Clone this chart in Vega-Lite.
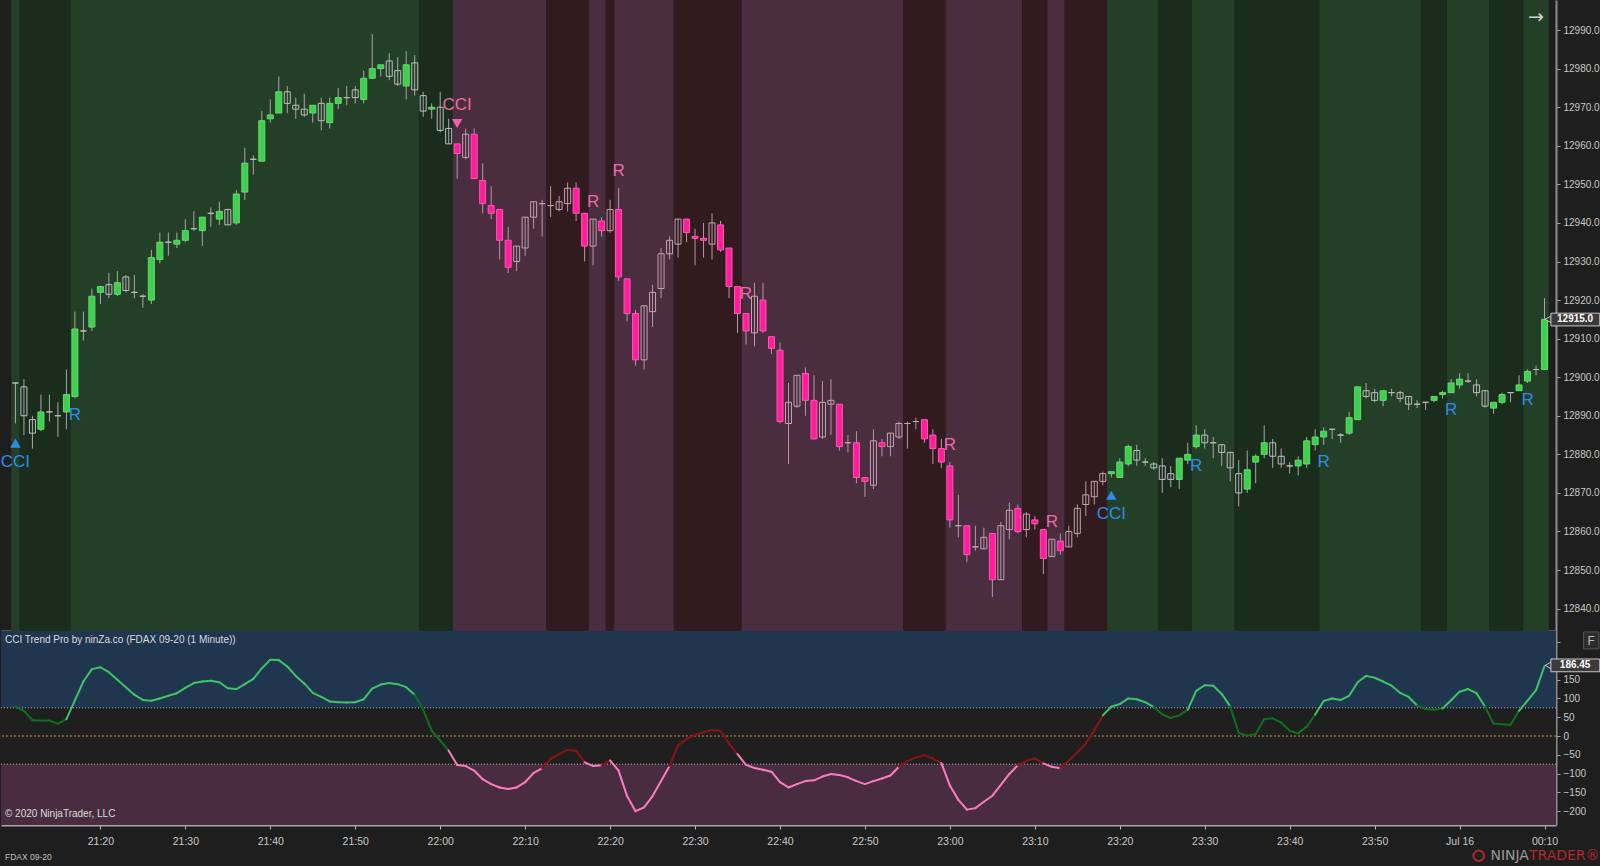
{
"$schema":"https://vega.github.io/schema/vega-lite/v6.json",
"background":"#1e1e1e","padding":0,"autosize":{"type":"pad"},"spacing":0,
"config":{"view":{"stroke":null},"axis":{"labelFont":"Liberation Sans Narrow, Liberation Sans, sans-serif","labelColor":"#c8c8c8","labelFontSize":10,"tickColor":"#a0a0a0","domainColor":"#a0a0a0","grid":false,"labelOverlap":false},"text":{"font":"Liberation Sans Narrow, Liberation Sans, sans-serif"}},
"datasets":{
"bars":[
{"t":"2020-07-15T21:10Z","o":12898.5,"h":12898.5,"l":12888,"c":12898.5,"cci":78,"tr":"up"},
{"t":"2020-07-15T21:11Z","o":12897.5,"h":12899.5,"l":12885,"c":12890,"cci":67,"tr":"up"},
{"t":"2020-07-15T21:12Z","o":12889,"h":12890,"l":12881.5,"c":12885.5,"cci":42,"tr":"up"},
{"t":"2020-07-15T21:13Z","o":12886.5,"h":12895.5,"l":12886,"c":12891,"cci":41,"tr":"up"},
{"t":"2020-07-15T21:14Z","o":12891,"h":12895.5,"l":12888.5,"c":12891,"cci":41,"tr":"up"},
{"t":"2020-07-15T21:15Z","o":12890,"h":12893.5,"l":12884.5,"c":12890,"cci":33,"tr":"up"},
{"t":"2020-07-15T21:16Z","o":12891,"h":12902,"l":12886.5,"c":12895.5,"cci":45,"tr":"up"},
{"t":"2020-07-15T21:17Z","o":12895,"h":12917,"l":12894.5,"c":12912.5,"cci":95,"tr":"up"},
{"t":"2020-07-15T21:18Z","o":12912,"h":12917,"l":12909.5,"c":12912,"cci":145,"tr":"up"},
{"t":"2020-07-15T21:19Z","o":12913,"h":12923,"l":12912,"c":12921,"cci":178,"tr":"up"},
{"t":"2020-07-15T21:20Z","o":12922,"h":12923.5,"l":12919,"c":12923.5,"cci":183,"tr":"up"},
{"t":"2020-07-15T21:21Z","o":12924,"h":12927,"l":12920.5,"c":12921.5,"cci":170,"tr":"up"},
{"t":"2020-07-15T21:22Z","o":12921.5,"h":12927.5,"l":12921,"c":12924.5,"cci":150,"tr":"up"},
{"t":"2020-07-15T21:23Z","o":12926,"h":12926.5,"l":12922,"c":12922.5,"cci":130,"tr":"up"},
{"t":"2020-07-15T21:24Z","o":12922,"h":12926.5,"l":12920.5,"c":12922,"cci":110,"tr":"up"},
{"t":"2020-07-15T21:25Z","o":12921,"h":12921.5,"l":12918,"c":12921,"cci":96,"tr":"up"},
{"t":"2020-07-15T21:26Z","o":12920,"h":12933,"l":12919,"c":12931,"cci":94,"tr":"up"},
{"t":"2020-07-15T21:27Z","o":12930.5,"h":12937.5,"l":12929.5,"c":12935,"cci":100,"tr":"up"},
{"t":"2020-07-15T21:28Z","o":12935,"h":12937.5,"l":12931.5,"c":12935,"cci":107,"tr":"up"},
{"t":"2020-07-15T21:29Z","o":12934.5,"h":12937.5,"l":12933.5,"c":12935.5,"cci":114,"tr":"up"},
{"t":"2020-07-15T21:30Z","o":12935.5,"h":12941,"l":12935,"c":12938,"cci":128,"tr":"up"},
{"t":"2020-07-15T21:31Z","o":12938.5,"h":12943,"l":12938,"c":12938.5,"cci":141,"tr":"up"},
{"t":"2020-07-15T21:32Z","o":12938,"h":12941.5,"l":12934,"c":12941.5,"cci":145,"tr":"up"},
{"t":"2020-07-15T21:33Z","o":12942.5,"h":12944,"l":12939,"c":12942.5,"cci":147,"tr":"up"},
{"t":"2020-07-15T21:34Z","o":12941,"h":12945.5,"l":12939.5,"c":12943,"cci":143,"tr":"up"},
{"t":"2020-07-15T21:35Z","o":12943.5,"h":12943.5,"l":12939.5,"c":12939.5,"cci":127,"tr":"up"},
{"t":"2020-07-15T21:36Z","o":12940,"h":12948.5,"l":12939.5,"c":12947.5,"cci":125,"tr":"up"},
{"t":"2020-07-15T21:37Z","o":12948,"h":12959.5,"l":12946,"c":12955.5,"cci":138,"tr":"up"},
{"t":"2020-07-15T21:38Z","o":12956.5,"h":12957.5,"l":12952.5,"c":12956.5,"cci":152,"tr":"up"},
{"t":"2020-07-15T21:39Z","o":12956,"h":12969,"l":12956,"c":12966.5,"cci":180,"tr":"up"},
{"t":"2020-07-15T21:40Z","o":12967,"h":12972,"l":12966,"c":12968,"cci":203,"tr":"up"},
{"t":"2020-07-15T21:41Z","o":12968.5,"h":12978,"l":12968.5,"c":12974,"cci":202,"tr":"up"},
{"t":"2020-07-15T21:42Z","o":12974,"h":12975.5,"l":12968.5,"c":12971,"cci":185,"tr":"up"},
{"t":"2020-07-15T21:43Z","o":12970.5,"h":12972.5,"l":12967,"c":12969.5,"cci":160,"tr":"up"},
{"t":"2020-07-15T21:44Z","o":12969.5,"h":12973.5,"l":12967.5,"c":12968,"cci":140,"tr":"up"},
{"t":"2020-07-15T21:45Z","o":12968.5,"h":12970.5,"l":12966,"c":12970.5,"cci":115,"tr":"up"},
{"t":"2020-07-15T21:46Z","o":12971,"h":12972.5,"l":12964,"c":12966.5,"cci":104,"tr":"up"},
{"t":"2020-07-15T21:47Z","o":12966,"h":12972.5,"l":12964.5,"c":12971,"cci":92,"tr":"up"},
{"t":"2020-07-15T21:48Z","o":12971,"h":12975,"l":12969.5,"c":12972.5,"cci":90,"tr":"up"},
{"t":"2020-07-15T21:49Z","o":12972.5,"h":12975.5,"l":12970.5,"c":12972.5,"cci":89,"tr":"up"},
{"t":"2020-07-15T21:50Z","o":12974.5,"h":12975.5,"l":12971,"c":12972.5,"cci":90,"tr":"up"},
{"t":"2020-07-15T21:51Z","o":12972,"h":12979.5,"l":12971,"c":12977.5,"cci":98,"tr":"up"},
{"t":"2020-07-15T21:52Z","o":12977.5,"h":12989,"l":12977.5,"c":12980,"cci":126,"tr":"up"},
{"t":"2020-07-15T21:53Z","o":12980,"h":12981,"l":12978,"c":12981,"cci":137,"tr":"up"},
{"t":"2020-07-15T21:54Z","o":12982,"h":12984,"l":12977,"c":12978,"cci":141,"tr":"up"},
{"t":"2020-07-15T21:55Z","o":12979.5,"h":12983,"l":12975.5,"c":12976,"cci":138,"tr":"up"},
{"t":"2020-07-15T21:56Z","o":12975.5,"h":12984.5,"l":12972,"c":12981,"cci":130,"tr":"up"},
{"t":"2020-07-15T21:57Z","o":12981.5,"h":12983.5,"l":12973,"c":12974.5,"cci":110,"tr":"up"},
{"t":"2020-07-15T21:58Z","o":12973,"h":12974,"l":12967.5,"c":12969,"cci":70,"tr":"up"},
{"t":"2020-07-15T21:59Z","o":12969.5,"h":12971,"l":12967,"c":12970,"cci":14,"tr":"up"},
{"t":"2020-07-15T22:00Z","o":12970,"h":12974,"l":12963.5,"c":12964,"cci":-12,"tr":"up"},
{"t":"2020-07-15T22:01Z","o":12964.5,"h":12967,"l":12960.5,"c":12960.5,"cci":-39,"tr":"up"},
{"t":"2020-07-15T22:02Z","o":12960.5,"h":12960.5,"l":12951.5,"c":12958,"cci":-77,"tr":"down"},
{"t":"2020-07-15T22:03Z","o":12957,"h":12964.5,"l":12956.5,"c":12963,"cci":-80,"tr":"down"},
{"t":"2020-07-15T22:04Z","o":12963,"h":12964.5,"l":12951.5,"c":12951.5,"cci":-92,"tr":"down"},
{"t":"2020-07-15T22:05Z","o":12951,"h":12955.5,"l":12942.5,"c":12945,"cci":-115,"tr":"down"},
{"t":"2020-07-15T22:06Z","o":12944.5,"h":12949.5,"l":12941,"c":12942.5,"cci":-128,"tr":"down"},
{"t":"2020-07-15T22:07Z","o":12943.5,"h":12943.5,"l":12930.5,"c":12935.5,"cci":-137,"tr":"down"},
{"t":"2020-07-15T22:08Z","o":12935.5,"h":12939,"l":12927,"c":12928.5,"cci":-141,"tr":"down"},
{"t":"2020-07-15T22:09Z","o":12930,"h":12934,"l":12927.5,"c":12934,"cci":-137,"tr":"down"},
{"t":"2020-07-15T22:10Z","o":12933.5,"h":12941.5,"l":12931.5,"c":12941.5,"cci":-123,"tr":"down"},
{"t":"2020-07-15T22:11Z","o":12941.5,"h":12945.5,"l":12938.5,"c":12945.5,"cci":-98,"tr":"down"},
{"t":"2020-07-15T22:12Z","o":12945,"h":12946,"l":12936.5,"c":12945,"cci":-86,"tr":"down"},
{"t":"2020-07-15T22:13Z","o":12944.5,"h":12949.5,"l":12941.5,"c":12944.5,"cci":-61,"tr":"down"},
{"t":"2020-07-15T22:14Z","o":12943.5,"h":12947,"l":12943,"c":12945.5,"cci":-48,"tr":"down"},
{"t":"2020-07-15T22:15Z","o":12945,"h":12950.5,"l":12943,"c":12949,"cci":-37,"tr":"down"},
{"t":"2020-07-15T22:16Z","o":12949,"h":12950.5,"l":12940.5,"c":12942.5,"cci":-39,"tr":"down"},
{"t":"2020-07-15T22:17Z","o":12942.5,"h":12942.5,"l":12930,"c":12934,"cci":-70,"tr":"down"},
{"t":"2020-07-15T22:18Z","o":12934,"h":12941,"l":12929,"c":12941,"cci":-80,"tr":"down"},
{"t":"2020-07-15T22:19Z","o":12940.5,"h":12941.5,"l":12936.5,"c":12938,"cci":-78,"tr":"down"},
{"t":"2020-07-15T22:20Z","o":12938,"h":12946,"l":12937.5,"c":12943.5,"cci":-65,"tr":"down"},
{"t":"2020-07-15T22:21Z","o":12943.5,"h":12949,"l":12925,"c":12926,"cci":-92,"tr":"down"},
{"t":"2020-07-15T22:22Z","o":12925.5,"h":12925.5,"l":12914.5,"c":12916.5,"cci":-160,"tr":"down"},
{"t":"2020-07-15T22:23Z","o":12916.5,"h":12917.5,"l":12903,"c":12904.5,"cci":-200,"tr":"down"},
{"t":"2020-07-15T22:24Z","o":12904.5,"h":12918.5,"l":12902,"c":12918.5,"cci":-190,"tr":"down"},
{"t":"2020-07-15T22:25Z","o":12917,"h":12924,"l":12913,"c":12922,"cci":-160,"tr":"down"},
{"t":"2020-07-15T22:26Z","o":12923,"h":12933.5,"l":12920.5,"c":12932,"cci":-120,"tr":"down"},
{"t":"2020-07-15T22:27Z","o":12932,"h":12936.5,"l":12930.5,"c":12935.5,"cci":-80,"tr":"down"},
{"t":"2020-07-15T22:28Z","o":12934.5,"h":12941,"l":12931,"c":12941,"cci":-25,"tr":"down"},
{"t":"2020-07-15T22:29Z","o":12941,"h":12941,"l":12935,"c":12937.5,"cci":-8,"tr":"down"},
{"t":"2020-07-15T22:30Z","o":12936.5,"h":12938.5,"l":12929,"c":12936,"cci":3,"tr":"down"},
{"t":"2020-07-15T22:31Z","o":12936,"h":12940,"l":12931,"c":12935.5,"cci":10,"tr":"down"},
{"t":"2020-07-15T22:32Z","o":12934.5,"h":12942.5,"l":12930.5,"c":12940,"cci":16,"tr":"down"},
{"t":"2020-07-15T22:33Z","o":12939.5,"h":12940.5,"l":12932.5,"c":12933,"cci":14,"tr":"down"},
{"t":"2020-07-15T22:34Z","o":12933.5,"h":12933.5,"l":12920.5,"c":12923.5,"cci":-20,"tr":"down"},
{"t":"2020-07-15T22:35Z","o":12923.5,"h":12923.5,"l":12911.5,"c":12916.5,"cci":-48,"tr":"down"},
{"t":"2020-07-15T22:36Z","o":12916.5,"h":12916.5,"l":12908.5,"c":12912,"cci":-77,"tr":"down"},
{"t":"2020-07-15T22:37Z","o":12911.5,"h":12924.5,"l":12908,"c":12921,"cci":-85,"tr":"down"},
{"t":"2020-07-15T22:38Z","o":12920,"h":12924.5,"l":12911.5,"c":12912,"cci":-90,"tr":"down"},
{"t":"2020-07-15T22:39Z","o":12910.5,"h":12910.5,"l":12906,"c":12907.5,"cci":-95,"tr":"down"},
{"t":"2020-07-15T22:40Z","o":12907,"h":12909,"l":12888,"c":12888.5,"cci":-123,"tr":"down"},
{"t":"2020-07-15T22:41Z","o":12888,"h":12898.5,"l":12877.5,"c":12893.5,"cci":-137,"tr":"down"},
{"t":"2020-07-15T22:42Z","o":12892.5,"h":12900.5,"l":12892,"c":12900.5,"cci":-128,"tr":"down"},
{"t":"2020-07-15T22:43Z","o":12901,"h":12902.5,"l":12890,"c":12894,"cci":-120,"tr":"down"},
{"t":"2020-07-15T22:44Z","o":12894,"h":12900.5,"l":12884,"c":12884,"cci":-118,"tr":"down"},
{"t":"2020-07-15T22:45Z","o":12884.5,"h":12899,"l":12884,"c":12893.5,"cci":-108,"tr":"down"},
{"t":"2020-07-15T22:46Z","o":12893,"h":12899.5,"l":12885,"c":12894,"cci":-101,"tr":"down"},
{"t":"2020-07-15T22:47Z","o":12893,"h":12893,"l":12881,"c":12882,"cci":-104,"tr":"down"},
{"t":"2020-07-15T22:48Z","o":12883,"h":12885,"l":12880.5,"c":12883,"cci":-110,"tr":"down"},
{"t":"2020-07-15T22:49Z","o":12883,"h":12886,"l":12872.5,"c":12874,"cci":-120,"tr":"down"},
{"t":"2020-07-15T22:50Z","o":12874,"h":12874,"l":12869,"c":12873,"cci":-128,"tr":"down"},
{"t":"2020-07-15T22:51Z","o":12872,"h":12886.5,"l":12871,"c":12883.5,"cci":-120,"tr":"down"},
{"t":"2020-07-15T22:52Z","o":12883,"h":12884,"l":12879.5,"c":12882,"cci":-113,"tr":"down"},
{"t":"2020-07-15T22:53Z","o":12882,"h":12885.5,"l":12879.5,"c":12885.5,"cci":-105,"tr":"down"},
{"t":"2020-07-15T22:54Z","o":12884.5,"h":12888.5,"l":12884,"c":12888,"cci":-82,"tr":"down"},
{"t":"2020-07-15T22:55Z","o":12888,"h":12888.5,"l":12881.5,"c":12888,"cci":-67,"tr":"down"},
{"t":"2020-07-15T22:56Z","o":12888.5,"h":12889.5,"l":12886.5,"c":12888.5,"cci":-57,"tr":"down"},
{"t":"2020-07-15T22:57Z","o":12889,"h":12889,"l":12883,"c":12884,"cci":-51,"tr":"down"},
{"t":"2020-07-15T22:58Z","o":12885,"h":12886.5,"l":12877.5,"c":12881.5,"cci":-60,"tr":"down"},
{"t":"2020-07-15T22:59Z","o":12881.5,"h":12884,"l":12876.5,"c":12878,"cci":-72,"tr":"down"},
{"t":"2020-07-15T23:00Z","o":12877,"h":12878,"l":12861,"c":12863,"cci":-132,"tr":"down"},
{"t":"2020-07-15T23:01Z","o":12861.5,"h":12869.5,"l":12858.5,"c":12861.5,"cci":-170,"tr":"down"},
{"t":"2020-07-15T23:02Z","o":12861.5,"h":12861.5,"l":12852,"c":12854,"cci":-196,"tr":"down"},
{"t":"2020-07-15T23:03Z","o":12856,"h":12861.5,"l":12855,"c":12856,"cci":-192,"tr":"down"},
{"t":"2020-07-15T23:04Z","o":12855.5,"h":12861,"l":12855.5,"c":12858.5,"cci":-175,"tr":"down"},
{"t":"2020-07-15T23:05Z","o":12859.5,"h":12859.5,"l":12843,"c":12847.5,"cci":-159,"tr":"down"},
{"t":"2020-07-15T23:06Z","o":12847.5,"h":12862.5,"l":12847.5,"c":12861.5,"cci":-130,"tr":"down"},
{"t":"2020-07-15T23:07Z","o":12860.5,"h":12867.5,"l":12858,"c":12865.5,"cci":-101,"tr":"down"},
{"t":"2020-07-15T23:08Z","o":12866,"h":12867,"l":12859.5,"c":12860,"cci":-78,"tr":"down"},
{"t":"2020-07-15T23:09Z","o":12860.5,"h":12865,"l":12858.5,"c":12864.5,"cci":-66,"tr":"down"},
{"t":"2020-07-15T23:10Z","o":12863,"h":12864,"l":12860.5,"c":12862,"cci":-60,"tr":"down"},
{"t":"2020-07-15T23:11Z","o":12860.5,"h":12860.5,"l":12849,"c":12853,"cci":-73,"tr":"down"},
{"t":"2020-07-15T23:12Z","o":12853.5,"h":12858,"l":12853.5,"c":12858,"cci":-82,"tr":"down"},
{"t":"2020-07-15T23:13Z","o":12857.5,"h":12859.5,"l":12854,"c":12855,"cci":-86,"tr":"down"},
{"t":"2020-07-15T23:14Z","o":12856,"h":12861.5,"l":12856,"c":12860,"cci":-65,"tr":"down"},
{"t":"2020-07-15T23:15Z","o":12859.5,"h":12867,"l":12858.5,"c":12866,"cci":-44,"tr":"down"},
{"t":"2020-07-15T23:16Z","o":12867,"h":12873,"l":12864,"c":12869.5,"cci":-20,"tr":"down"},
{"t":"2020-07-15T23:17Z","o":12869,"h":12873,"l":12867,"c":12873,"cci":15,"tr":"down"},
{"t":"2020-07-15T23:18Z","o":12873,"h":12875.5,"l":12872,"c":12875,"cci":55,"tr":"down"},
{"t":"2020-07-15T23:19Z","o":12875,"h":12875.5,"l":12874,"c":12875.5,"cci":78,"tr":"up"},
{"t":"2020-07-15T23:20Z","o":12874,"h":12879,"l":12874,"c":12878,"cci":85,"tr":"up"},
{"t":"2020-07-15T23:21Z","o":12877.5,"h":12882.5,"l":12877,"c":12882,"cci":100,"tr":"up"},
{"t":"2020-07-15T23:22Z","o":12881,"h":12882.5,"l":12877,"c":12878.5,"cci":98,"tr":"up"},
{"t":"2020-07-15T23:23Z","o":12878,"h":12879,"l":12877,"c":12878,"cci":90,"tr":"up"},
{"t":"2020-07-15T23:24Z","o":12877.5,"h":12878,"l":12876,"c":12876.5,"cci":77,"tr":"up"},
{"t":"2020-07-15T23:25Z","o":12877,"h":12879,"l":12870,"c":12873.5,"cci":58,"tr":"up"},
{"t":"2020-07-15T23:26Z","o":12875,"h":12877,"l":12871.5,"c":12873.5,"cci":48,"tr":"up"},
{"t":"2020-07-15T23:27Z","o":12873.5,"h":12879,"l":12871,"c":12879,"cci":55,"tr":"up"},
{"t":"2020-07-15T23:28Z","o":12878.5,"h":12883,"l":12877.5,"c":12880,"cci":70,"tr":"up"},
{"t":"2020-07-15T23:29Z","o":12882,"h":12887.5,"l":12881.5,"c":12885,"cci":120,"tr":"up"},
{"t":"2020-07-15T23:30Z","o":12885,"h":12886.5,"l":12881.5,"c":12883,"cci":135,"tr":"up"},
{"t":"2020-07-15T23:31Z","o":12883,"h":12884.5,"l":12879,"c":12883,"cci":134,"tr":"up"},
{"t":"2020-07-15T23:32Z","o":12882.5,"h":12882.5,"l":12877,"c":12880.5,"cci":112,"tr":"up"},
{"t":"2020-07-15T23:33Z","o":12880.5,"h":12880.5,"l":12873,"c":12876.5,"cci":79,"tr":"up"},
{"t":"2020-07-15T23:34Z","o":12875,"h":12878.5,"l":12866.5,"c":12870,"cci":8,"tr":"up"},
{"t":"2020-07-15T23:35Z","o":12871,"h":12881,"l":12870,"c":12876,"cci":1,"tr":"up"},
{"t":"2020-07-15T23:36Z","o":12878,"h":12880,"l":12872.5,"c":12879.5,"cci":5,"tr":"up"},
{"t":"2020-07-15T23:37Z","o":12880,"h":12887.5,"l":12879,"c":12883,"cci":45,"tr":"up"},
{"t":"2020-07-15T23:38Z","o":12883,"h":12884,"l":12876.5,"c":12879.5,"cci":47,"tr":"up"},
{"t":"2020-07-15T23:39Z","o":12879.5,"h":12881.5,"l":12876.5,"c":12877.5,"cci":36,"tr":"up"},
{"t":"2020-07-15T23:40Z","o":12877,"h":12878,"l":12875,"c":12877,"cci":14,"tr":"up"},
{"t":"2020-07-15T23:41Z","o":12877,"h":12879.5,"l":12874.5,"c":12878.5,"cci":7,"tr":"up"},
{"t":"2020-07-15T23:42Z","o":12877.5,"h":12884.5,"l":12876.5,"c":12883.5,"cci":25,"tr":"up"},
{"t":"2020-07-15T23:43Z","o":12882.5,"h":12886.5,"l":12881,"c":12884.5,"cci":57,"tr":"up"},
{"t":"2020-07-15T23:44Z","o":12884.5,"h":12887,"l":12882.5,"c":12886,"cci":93,"tr":"up"},
{"t":"2020-07-15T23:45Z","o":12886.5,"h":12886.5,"l":12884,"c":12886.5,"cci":100,"tr":"up"},
{"t":"2020-07-15T23:46Z","o":12885,"h":12885.5,"l":12883,"c":12885,"cci":96,"tr":"up"},
{"t":"2020-07-15T23:47Z","o":12885.5,"h":12891,"l":12885,"c":12889.5,"cci":107,"tr":"up"},
{"t":"2020-07-15T23:48Z","o":12889,"h":12897.5,"l":12889,"c":12897.5,"cci":143,"tr":"up"},
{"t":"2020-07-15T23:49Z","o":12896.5,"h":12898.5,"l":12894.5,"c":12895,"cci":160,"tr":"up"},
{"t":"2020-07-15T23:50Z","o":12896,"h":12897,"l":12893.5,"c":12894,"cci":155,"tr":"up"},
{"t":"2020-07-15T23:51Z","o":12894,"h":12896.5,"l":12892.5,"c":12896.5,"cci":145,"tr":"up"},
{"t":"2020-07-15T23:52Z","o":12896,"h":12897,"l":12895,"c":12896,"cci":134,"tr":"up"},
{"t":"2020-07-15T23:53Z","o":12896,"h":12896.5,"l":12893.5,"c":12894.5,"cci":115,"tr":"up"},
{"t":"2020-07-15T23:54Z","o":12895,"h":12895,"l":12891.5,"c":12893,"cci":104,"tr":"up"},
{"t":"2020-07-15T23:55Z","o":12893,"h":12894,"l":12892,"c":12893,"cci":81,"tr":"up"},
{"t":"2020-07-15T23:56Z","o":12893.5,"h":12893.5,"l":12891.5,"c":12893.5,"cci":72,"tr":"up"},
{"t":"2020-07-15T23:57Z","o":12894,"h":12895,"l":12893.5,"c":12895,"cci":70,"tr":"up"},
{"t":"2020-07-15T23:58Z","o":12895.5,"h":12896.5,"l":12894.5,"c":12896,"cci":73,"tr":"up"},
{"t":"2020-07-15T23:59Z","o":12896,"h":12899.5,"l":12896,"c":12898.5,"cci":95,"tr":"up"},
{"t":"2020-07-16T00:00Z","o":12898,"h":12901,"l":12897,"c":12899.5,"cci":118,"tr":"up"},
{"t":"2020-07-16T00:01Z","o":12899,"h":12901,"l":12898.5,"c":12899,"cci":125,"tr":"up"},
{"t":"2020-07-16T00:02Z","o":12898,"h":12899.5,"l":12895,"c":12896,"cci":114,"tr":"up"},
{"t":"2020-07-16T00:03Z","o":12896.5,"h":12896.5,"l":12892,"c":12892.5,"cci":78,"tr":"up"},
{"t":"2020-07-16T00:04Z","o":12892,"h":12893.5,"l":12890.5,"c":12893.5,"cci":33,"tr":"up"},
{"t":"2020-07-16T00:05Z","o":12893.5,"h":12896,"l":12893,"c":12895.5,"cci":31,"tr":"up"},
{"t":"2020-07-16T00:06Z","o":12896,"h":12896,"l":12893.5,"c":12896,"cci":30,"tr":"up"},
{"t":"2020-07-16T00:07Z","o":12896.5,"h":12900.5,"l":12896.5,"c":12898,"cci":67,"tr":"up"},
{"t":"2020-07-16T00:08Z","o":12899,"h":12902,"l":12898.5,"c":12901.5,"cci":94,"tr":"up"},
{"t":"2020-07-16T00:09Z","o":12902,"h":12903,"l":12900.5,"c":12902,"cci":122,"tr":"up"},
{"t":"2020-07-16T00:10Z","o":12902,"h":12920.5,"l":12902,"c":12915,"cci":186.45,"tr":"up"}
],
"bands":[
{"a":"2020-07-15T21:09:30Z","b":"2020-07-15T21:10:30Z","s":"G"},
{"a":"2020-07-15T21:10:30Z","b":"2020-07-15T21:16:30Z","s":"g"},
{"a":"2020-07-15T21:16:30Z","b":"2020-07-15T21:57:30Z","s":"G"},
{"a":"2020-07-15T21:57:30Z","b":"2020-07-15T22:01:30Z","s":"g"},
{"a":"2020-07-15T22:01:30Z","b":"2020-07-15T22:12:30Z","s":"P"},
{"a":"2020-07-15T22:12:30Z","b":"2020-07-15T22:17:30Z","s":"r"},
{"a":"2020-07-15T22:17:30Z","b":"2020-07-15T22:19:30Z","s":"P"},
{"a":"2020-07-15T22:19:30Z","b":"2020-07-15T22:20:30Z","s":"r"},
{"a":"2020-07-15T22:20:30Z","b":"2020-07-15T22:27:30Z","s":"P"},
{"a":"2020-07-15T22:27:30Z","b":"2020-07-15T22:35:30Z","s":"r"},
{"a":"2020-07-15T22:35:30Z","b":"2020-07-15T22:54:30Z","s":"P"},
{"a":"2020-07-15T22:54:30Z","b":"2020-07-15T22:59:30Z","s":"r"},
{"a":"2020-07-15T22:59:30Z","b":"2020-07-15T23:08:30Z","s":"P"},
{"a":"2020-07-15T23:08:30Z","b":"2020-07-15T23:11:30Z","s":"r"},
{"a":"2020-07-15T23:11:30Z","b":"2020-07-15T23:13:30Z","s":"P"},
{"a":"2020-07-15T23:13:30Z","b":"2020-07-15T23:18:30Z","s":"r"},
{"a":"2020-07-15T23:18:30Z","b":"2020-07-15T23:24:30Z","s":"G"},
{"a":"2020-07-15T23:24:30Z","b":"2020-07-15T23:28:30Z","s":"g"},
{"a":"2020-07-15T23:28:30Z","b":"2020-07-15T23:33:30Z","s":"G"},
{"a":"2020-07-15T23:33:30Z","b":"2020-07-15T23:43:30Z","s":"g"},
{"a":"2020-07-15T23:43:30Z","b":"2020-07-15T23:55:30Z","s":"G"},
{"a":"2020-07-15T23:55:30Z","b":"2020-07-15T23:58:30Z","s":"g"},
{"a":"2020-07-15T23:58:30Z","b":"2020-07-16T00:03:30Z","s":"G"},
{"a":"2020-07-16T00:03:30Z","b":"2020-07-16T00:07:30Z","s":"g"},
{"a":"2020-07-16T00:07:30Z","b":"2020-07-16T00:10:30Z","s":"G"}
],
"sig":[
{"t":"2020-07-15T21:10Z","y":12878.1,"txt":"CCI","d":"up"},
{"t":"2020-07-15T21:17Z","y":12890.2,"txt":"R","d":"up"},
{"t":"2020-07-15T22:02Z","y":12970.7,"txt":"CCI","d":"down"},
{"t":"2020-07-15T22:18Z","y":12945.5,"txt":"R","d":"down"},
{"t":"2020-07-15T22:21Z","y":12953.5,"txt":"R","d":"down"},
{"t":"2020-07-15T22:36Z","y":12921.7,"txt":"R","d":"down"},
{"t":"2020-07-15T23:00Z","y":12882.4,"txt":"R","d":"down"},
{"t":"2020-07-15T23:12Z","y":12862.5,"txt":"R","d":"down"},
{"t":"2020-07-15T23:19Z","y":12864.5,"txt":"CCI","d":"up"},
{"t":"2020-07-15T23:29Z","y":12877,"txt":"R","d":"up"},
{"t":"2020-07-15T23:44Z","y":12878.1,"txt":"R","d":"up"},
{"t":"2020-07-15T23:59Z","y":12891.5,"txt":"R","d":"up"},
{"t":"2020-07-16T00:08Z","y":12894.1,"txt":"R","d":"up"}
],
"tri":[
{"t":"2020-07-15T21:10Z","y":12882.9,"d":"up"},
{"t":"2020-07-15T22:02Z","y":12965.8,"d":"down"},
{"t":"2020-07-15T23:19Z","y":12869.4,"d":"up"}
]
},
"vconcat":[
{
"width":1555,"height":631,
"layer":[
{"data":{"name":"bands"},"mark":{"type":"rect"},
 "encoding":{
  "x":{"field":"a","type":"temporal","title":null,"scale":{"type":"utc","nice":false,"padding":0,"domain":[{"year":2020,"month":7,"date":15,"hours":21,"minutes":8,"seconds":18,"utc":true},{"year":2020,"month":7,"date":16,"hours":0,"minutes":11,"seconds":21,"utc":true}]},
   "axis":{"orient":"bottom","labels":false,"ticks":false,"domain":true,"domainColor":"#8c8c8c","domainWidth":2,"title":null,"values":[]}},
  "x2":{"field":"b"},
  "fill":{"condition":[{"test":"datum.s=='G'","value":"#243f27"},{"test":"datum.s=='g'","value":"#1a2c1c"},{"test":"datum.s=='r'","value":"#321b1f"}],"value":"#4a2d3e"}}},
{"data":{"name":"bars"},"mark":{"type":"rule","strokeWidth":1},
 "encoding":{
  "x":{"field":"t","type":"temporal","title":null},
  "y":{"field":"l","type":"quantitative","title":null,"scale":{"domain":[12834.2,12997.8],"zero":false,"nice":false,"padding":0},
   "axis":{"orient":"right","values":[12840,12850,12860,12870,12880,12890,12900,12910,12920,12930,12940,12950,12960,12970,12980,12990],"format":".1f","tickSize":4,"labelPadding":3,"title":null,"domainColor":"#8c8c8c","domainWidth":2,"labelOverlap":false}},
  "y2":{"field":"h"},
  "color":{"condition":{"test":"datum.tr=='up'","value":"#a8a8a8"},"value":"#b797a7"}}},
{"data":{"name":"bars"},"mark":{"type":"bar","width":6,"strokeWidth":1},
 "encoding":{
  "x":{"field":"t","type":"temporal","title":null},
  "y":{"field":"o","type":"quantitative","title":null},
  "y2":{"field":"c"},
  "fill":{"condition":[{"test":"datum.tr=='up' && datum.c>datum.o","value":"#3fcf4f"},{"test":"datum.tr=='down' && datum.c<datum.o","value":"#ff1f9c"}],"value":"transparent"},
  "stroke":{"condition":[{"test":"datum.tr=='up' && datum.c>datum.o","value":"#62dc6e"},{"test":"datum.tr=='down' && datum.c<datum.o","value":"#ff55b3"},{"test":"datum.tr=='up'","value":"#bdbdbd"}],"value":"#c4a3b4"}}},
{"data":{"name":"tri"},"mark":{"type":"point","filled":true,"size":110,"opacity":1},
 "encoding":{
  "x":{"field":"t","type":"temporal","title":null},
  "y":{"field":"y","type":"quantitative","title":null},
  "shape":{"field":"d","type":"nominal","scale":{"domain":["up","down"],"range":["triangle-up","triangle-down"]},"legend":null},
  "fill":{"condition":{"test":"datum.d=='up'","value":"#2b8de8"},"value":"#f55fae"}}},
{"data":{"name":"sig"},"mark":{"type":"text","fontSize":17,"font":"Liberation Sans","baseline":"middle","align":"center"},
 "encoding":{
  "x":{"field":"t","type":"temporal","title":null},
  "y":{"field":"y","type":"quantitative","title":null},
  "text":{"field":"txt"},
  "fill":{"condition":{"test":"datum.d=='up'","value":"#2b8de8"},"value":"#f06aaa"}}},
{"data":{"values":[{"t":"2020-07-16T00:09Z","y":12993.4,"txt":"→"}]},"mark":{"type":"text","fontSize":19,"font":"DejaVu Sans","color":"#d0d0d0","baseline":"middle"},
 "encoding":{"x":{"field":"t","type":"temporal","title":null},"y":{"field":"y","type":"quantitative","title":null},"text":{"field":"txt"}}},
{"data":{"values":[{"t":"2020-07-16T00:10:45Z","b":"2020-07-16T00:16:30Z","lo":12913.3,"hi":12916.6,"tc":"2020-07-16T00:13:36Z","p":12915,"tp":"2020-07-16T00:10:30Z","txt":"12915.0"}]},
 "layer":[
  {"mark":{"type":"point","shape":"triangle-left","filled":true,"size":70,"fill":"#3a3a3a","stroke":"#c8c8c8","strokeWidth":1,"opacity":1},
   "encoding":{"x":{"field":"tp","type":"temporal","title":null},"y":{"field":"p","type":"quantitative","title":null}}},
  {"mark":{"type":"rect","fill":"#3a3a3a","stroke":"#c8c8c8","strokeWidth":1},
   "encoding":{"x":{"field":"t","type":"temporal","title":null},"x2":{"field":"b"},"y":{"field":"lo","type":"quantitative","title":null},"y2":{"field":"hi"}}},
  {"mark":{"type":"text","color":"#ffffff","fontSize":10,"fontWeight":"bold","font":"Liberation Sans","baseline":"middle"},
   "encoding":{"x":{"field":"tc","type":"temporal","title":null},"y":{"field":"p","type":"quantitative","title":null},"text":{"field":"txt"}}}
 ]}
]
},
{
"width":1555,"height":194,
"layer":[
{"data":{"values":[{"lo":75,"hi":400,"z":"hi"},{"lo":-75,"hi":75,"z":"mid"},{"lo":-400,"hi":-75,"z":"lo"}]},"mark":{"type":"rect","clip":true},
 "encoding":{
  "y":{"field":"lo","type":"quantitative","title":null,"scale":{"domain":[-236.9,279.5],"zero":false,"nice":false,"padding":0}},
  "y2":{"field":"hi"},
  "fill":{"condition":[{"test":"datum.z=='hi'","value":"#1f364e"},{"test":"datum.z=='mid'","value":"#1f1f1f"}],"value":"#4a2c40"}}},
{"data":{"values":[{"v":75},{"v":-75}]},"mark":{"type":"rule","color":"#b8b8c8","strokeWidth":1,"strokeDash":[1,2]},
 "encoding":{"y":{"field":"v","type":"quantitative","title":null}}},
{"data":{"values":[{"v":0}]},"mark":{"type":"rule","color":"#c8862a","strokeWidth":1,"strokeDash":[2,2]},
 "encoding":{"y":{"field":"v","type":"quantitative","title":null}}},
{"data":{"name":"bars"},
 "transform":[{"window":[{"op":"lag","field":"cci","as":"pv"},{"op":"lag","field":"t","as":"pt"}],"sort":[{"field":"t","order":"ascending"}]},{"filter":"datum.pv != null"}],
 "mark":{"type":"rule","strokeWidth":2,"strokeCap":"round"},
 "encoding":{
  "x":{"field":"pt","type":"temporal","title":null,"scale":{"type":"utc","nice":false,"padding":0,"domain":[{"year":2020,"month":7,"date":15,"hours":21,"minutes":8,"seconds":18,"utc":true},{"year":2020,"month":7,"date":16,"hours":0,"minutes":11,"seconds":21,"utc":true}]},
   "axis":{"orient":"bottom","values":[
     {"year":2020,"month":7,"date":15,"hours":21,"minutes":20,"utc":true},{"year":2020,"month":7,"date":15,"hours":21,"minutes":30,"utc":true},{"year":2020,"month":7,"date":15,"hours":21,"minutes":40,"utc":true},{"year":2020,"month":7,"date":15,"hours":21,"minutes":50,"utc":true},
     {"year":2020,"month":7,"date":15,"hours":22,"minutes":0,"utc":true},{"year":2020,"month":7,"date":15,"hours":22,"minutes":10,"utc":true},{"year":2020,"month":7,"date":15,"hours":22,"minutes":20,"utc":true},{"year":2020,"month":7,"date":15,"hours":22,"minutes":30,"utc":true},{"year":2020,"month":7,"date":15,"hours":22,"minutes":40,"utc":true},{"year":2020,"month":7,"date":15,"hours":22,"minutes":50,"utc":true},
     {"year":2020,"month":7,"date":15,"hours":23,"minutes":0,"utc":true},{"year":2020,"month":7,"date":15,"hours":23,"minutes":10,"utc":true},{"year":2020,"month":7,"date":15,"hours":23,"minutes":20,"utc":true},{"year":2020,"month":7,"date":15,"hours":23,"minutes":30,"utc":true},{"year":2020,"month":7,"date":15,"hours":23,"minutes":40,"utc":true},{"year":2020,"month":7,"date":15,"hours":23,"minutes":50,"utc":true},
     {"year":2020,"month":7,"date":16,"hours":0,"minutes":0,"utc":true},{"year":2020,"month":7,"date":16,"hours":0,"minutes":10,"utc":true}],
    "labelExpr":"utcFormat(datum.value, '%H:%M') == '00:00' ? 'Jul 16' : utcFormat(datum.value, '%H:%M')",
    "labelFontSize":10.5,"tickSize":4,"labelPadding":7,"title":null,"domainColor":"#a8a8a8","domainWidth":2,"tickColor":"#b8b8b8"}},
  "x2":{"field":"t"},
  "y":{"field":"pv","type":"quantitative","title":null,
   "axis":{"orient":"right","values":[-200,-150,-100,-50,0,50,100,150,200,250],"tickCount":11,"tickMinStep":50,"labelExpr":"datum.value >= 200 ? '' : datum.label","tickSize":4,"labelPadding":3,"title":null,"domainColor":"#8c8c8c","domainWidth":2,"labelOverlap":false,"labelBound":false,"labelFlush":false}},
  "y2":{"field":"cci"},
  "color":{"condition":[{"test":"datum.cci > 75","value":"#40c266"},{"test":"datum.cci < -75","value":"#f77dbd"},{"test":"datum.tr == 'up'","value":"#0f6f1f"}],"value":"#8a1414"}}},
{"data":{"values":[{"t":"2020-07-15T21:08:46Z","v":255.5,"txt":"CCI Trend Pro by ninZa.co (FDAX 09-20 (1 Minute))"},{"t":"2020-07-15T21:08:46Z","v":-207.6,"txt":"© 2020 NinjaTrader, LLC"}]},
 "mark":{"type":"text","align":"left","baseline":"middle","fontSize":10,"color":"#dcdcdc"},
 "encoding":{"x":{"field":"t","type":"temporal","title":null},"y":{"field":"v","type":"quantitative","title":null},"text":{"field":"txt"}}},
{"data":{"values":[{"t":"2020-07-15T21:08:46Z","v":-322,"txt":"FDAX 09-20"}]},
 "mark":{"type":"text","align":"left","baseline":"middle","fontSize":8.5,"color":"#c0c0c0"},
 "encoding":{"x":{"field":"t","type":"temporal","title":null},"y":{"field":"v","type":"quantitative","title":null},"text":{"field":"txt"}}},
{"data":{"values":[{"t":"2020-07-16T00:08:10Z","v":-319,"txt":"NINJA"}]},
 "mark":{"type":"text","align":"right","baseline":"middle","fontSize":14,"font":"DejaVu Sans","color":"#9a9a9a"},
 "encoding":{"x":{"field":"t","type":"temporal","title":null},"y":{"field":"v","type":"quantitative","title":null},"text":{"field":"txt"}}},
{"data":{"values":[{"t":"2020-07-16T00:08:10Z","v":-319,"txt":"TRADER®"}]},
 "mark":{"type":"text","align":"left","baseline":"middle","fontSize":14,"font":"DejaVu Sans","color":"#b3262c"},
 "encoding":{"x":{"field":"t","type":"temporal","title":null},"y":{"field":"v","type":"quantitative","title":null},"text":{"field":"txt"}}},
{"data":{"values":[{"t":"2020-07-16T00:02:15Z","v":-319}]},
 "mark":{"type":"point","shape":"circle","size":110,"filled":false,"stroke":"#b3262c","strokeWidth":2,"opacity":1},
 "encoding":{"x":{"field":"t","type":"temporal","title":null},"y":{"field":"v","type":"quantitative","title":null}}},
{"data":{"values":[{"t":"2020-07-16T00:10:45Z","b":"2020-07-16T00:16:30Z","lo":171,"hi":205,"tc":"2020-07-16T00:13:36Z","p":188,"tp":"2020-07-16T00:10:30Z","txt":"186.45"}]},
 "layer":[
  {"mark":{"type":"point","shape":"triangle-left","filled":true,"size":70,"fill":"#3a3a3a","stroke":"#c8c8c8","strokeWidth":1,"opacity":1},
   "encoding":{"x":{"field":"tp","type":"temporal","title":null},"y":{"field":"p","type":"quantitative","title":null}}},
  {"mark":{"type":"rect","fill":"#3a3a3a","stroke":"#c8c8c8","strokeWidth":1},
   "encoding":{"x":{"field":"t","type":"temporal","title":null},"x2":{"field":"b"},"y":{"field":"lo","type":"quantitative","title":null},"y2":{"field":"hi"}}},
  {"mark":{"type":"text","color":"#ffffff","fontSize":10,"fontWeight":"bold","font":"Liberation Sans","baseline":"middle"},
   "encoding":{"x":{"field":"tc","type":"temporal","title":null},"y":{"field":"p","type":"quantitative","title":null},"text":{"field":"txt"}}}
 ]},
{"data":{"values":[{"t":"2020-07-16T00:14:36Z","b":"2020-07-16T00:16:24Z","lo":232,"hi":277,"tc":"2020-07-16T00:15:30Z","p":254,"txt":"F"}]},
 "layer":[
  {"mark":{"type":"rect","fill":"#2c2c2c","stroke":"#555555","strokeWidth":1},
   "encoding":{"x":{"field":"t","type":"temporal","title":null},"x2":{"field":"b"},"y":{"field":"lo","type":"quantitative","title":null},"y2":{"field":"hi"}}},
  {"mark":{"type":"text","color":"#bbbbbb","fontSize":12,"font":"Liberation Sans","baseline":"middle"},
   "encoding":{"x":{"field":"tc","type":"temporal","title":null},"y":{"field":"p","type":"quantitative","title":null},"text":{"field":"txt"}}}
 ]}
]
}
]
}
